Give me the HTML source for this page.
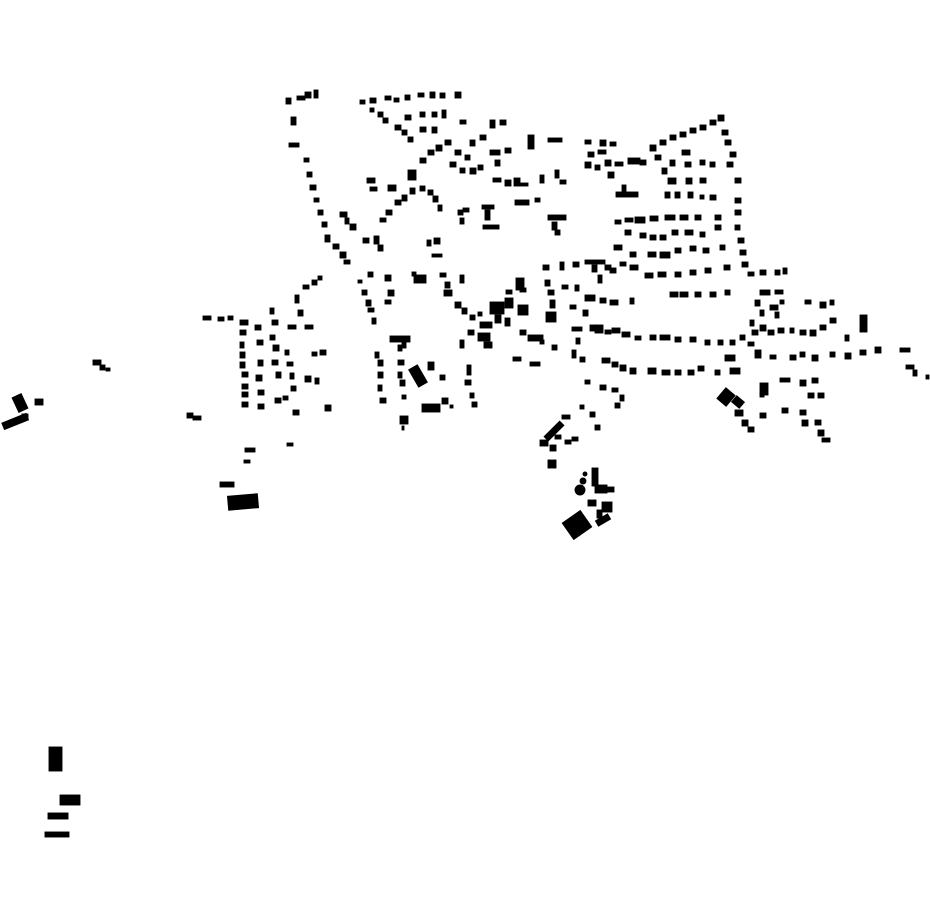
<!DOCTYPE html>
<html><head><meta charset="utf-8"><style>html,body{margin:0;padding:0;background:#fff}svg{display:block}</style></head>
<body>
<svg width="930" height="924" viewBox="0 0 930 924" xmlns="http://www.w3.org/2000/svg">
<g fill="#000" stroke="#000" stroke-width="0.9">
<!-- north-west strip -->
<rect x="286" y="98" width="5" height="6"/><rect x="297" y="96" width="8" height="4"/><rect x="305" y="92" width="6" height="6"/><rect x="314" y="90" width="4" height="8"/>
<rect x="291" y="117" width="5" height="8"/><rect x="289" y="143" width="10" height="4"/><rect x="304" y="158" width="5" height="4"/><rect x="307" y="172" width="5" height="5"/><rect x="310" y="185" width="6" height="5"/><rect x="314" y="198" width="5" height="4"/><rect x="318" y="210" width="5" height="5"/><rect x="322" y="222" width="5" height="5"/><rect x="325" y="235" width="5" height="7"/><rect x="333" y="244" width="6" height="5"/><rect x="340" y="252" width="6" height="6"/><rect x="344" y="260" width="6" height="4"/>
<rect x="340" y="212" width="7" height="5"/><rect x="345" y="218" width="4" height="6"/><rect x="350" y="224" width="6" height="6"/><rect x="363" y="238" width="6" height="5"/><rect x="374" y="236" width="5" height="8"/><rect x="378" y="245" width="5" height="6"/>
<rect x="380" y="218" width="6" height="4"/><rect x="386" y="210" width="6" height="5"/><rect x="395" y="200" width="6" height="5"/><rect x="402" y="195" width="5" height="6"/><rect x="410" y="188" width="5" height="6"/><rect x="408" y="170" width="8" height="10"/><rect x="420" y="158" width="6" height="5"/><rect x="428" y="150" width="6" height="5"/><rect x="436" y="145" width="6" height="6"/><rect x="445" y="140" width="6" height="5"/>
<rect x="360" y="100" width="5" height="4"/><rect x="370" y="98" width="6" height="5"/><rect x="385" y="96" width="6" height="4"/><rect x="394" y="98" width="5" height="4"/><rect x="405" y="95" width="5" height="5"/><rect x="418" y="93" width="6" height="4"/><rect x="430" y="92" width="5" height="6"/><rect x="440" y="93" width="5" height="5"/><rect x="455" y="92" width="6" height="6"/><rect x="370" y="108" width="4" height="4"/><rect x="378" y="112" width="5" height="5"/><rect x="383" y="118" width="5" height="5"/><rect x="395" y="125" width="6" height="5"/><rect x="402" y="130" width="5" height="5"/><rect x="408" y="137" width="5" height="5"/><rect x="405" y="115" width="6" height="5"/><rect x="420" y="112" width="5" height="5"/><rect x="432" y="112" width="5" height="5"/><rect x="442" y="110" width="4" height="8"/><rect x="420" y="127" width="6" height="5"/><rect x="432" y="127" width="5" height="6"/><rect x="460" y="120" width="6" height="4"/><rect x="367" y="178" width="8" height="5"/><rect x="370" y="187" width="7" height="4"/><rect x="388" y="185" width="8" height="6"/>
<rect x="420" y="186" width="5" height="5"/><rect x="428" y="190" width="5" height="5"/><rect x="433" y="196" width="5" height="6"/><rect x="438" y="205" width="4" height="6"/>
<rect x="458" y="210" width="5" height="5"/><rect x="463" y="208" width="6" height="4"/><rect x="460" y="218" width="4" height="6"/><rect x="482" y="205" width="12" height="4"/><rect x="485" y="210" width="5" height="10"/><rect x="483" y="225" width="16" height="4"/>
<rect x="427" y="240" width="4" height="6"/><rect x="434" y="238" width="6" height="6"/><rect x="432" y="254" width="10" height="3"/>
<rect x="470" y="140" width="5" height="6"/><rect x="480" y="135" width="6" height="5"/><rect x="490" y="120" width="5" height="8"/><rect x="500" y="120" width="6" height="5"/><rect x="455" y="150" width="6" height="5"/><rect x="465" y="155" width="5" height="5"/><rect x="450" y="162" width="6" height="5"/><rect x="460" y="168" width="5" height="5"/><rect x="470" y="168" width="6" height="6"/><rect x="478" y="165" width="5" height="5"/><rect x="490" y="150" width="10" height="5"/><rect x="495" y="160" width="5" height="6"/><rect x="505" y="148" width="6" height="5"/><rect x="528" y="135" width="6" height="14"/><rect x="548" y="138" width="14" height="4"/><rect x="493" y="178" width="8" height="4"/><rect x="505" y="180" width="6" height="6"/><rect x="514" y="178" width="6" height="8"/><rect x="520" y="183" width="8" height="3"/><rect x="540" y="175" width="4" height="8"/><rect x="555" y="170" width="4" height="8"/><rect x="560" y="180" width="6" height="4"/><rect x="515" y="200" width="14" height="5"/><rect x="535" y="198" width="5" height="4"/><rect x="548" y="215" width="18" height="5"/><rect x="552" y="222" width="5" height="8"/><rect x="555" y="230" width="5" height="5"/>
<!-- north-east -->
<rect x="585" y="140" width="6" height="4"/><rect x="600" y="140" width="6" height="6"/><rect x="610" y="142" width="6" height="4"/><rect x="588" y="152" width="6" height="5"/><rect x="598" y="150" width="8" height="4"/><rect x="585" y="162" width="6" height="6"/><rect x="595" y="165" width="5" height="5"/><rect x="605" y="160" width="6" height="6"/><rect x="615" y="162" width="8" height="4"/><rect x="628" y="158" width="12" height="6"/><rect x="640" y="160" width="6" height="5"/><rect x="655" y="155" width="6" height="5"/><rect x="650" y="145" width="6" height="6"/><rect x="660" y="140" width="6" height="5"/><rect x="670" y="135" width="6" height="5"/><rect x="680" y="132" width="6" height="5"/><rect x="690" y="128" width="6" height="5"/><rect x="700" y="125" width="6" height="5"/><rect x="710" y="120" width="6" height="5"/><rect x="718" y="115" width="6" height="6"/><rect x="722" y="130" width="6" height="5"/><rect x="725" y="140" width="6" height="5"/><rect x="730" y="152" width="6" height="5"/><rect x="727" y="162" width="6" height="5"/>
<rect x="608" y="172" width="6" height="6"/><rect x="616" y="192" width="22" height="5"/><rect x="622" y="185" width="4" height="8"/>
<rect x="662" y="168" width="5" height="6"/><rect x="670" y="160" width="5" height="6"/><rect x="682" y="150" width="8" height="5"/><rect x="685" y="162" width="6" height="5"/><rect x="700" y="160" width="5" height="5"/><rect x="710" y="162" width="5" height="5"/><rect x="668" y="178" width="8" height="6"/><rect x="686" y="178" width="6" height="6"/><rect x="700" y="178" width="6" height="5"/><rect x="665" y="192" width="5" height="6"/><rect x="675" y="192" width="5" height="6"/><rect x="688" y="192" width="5" height="6"/><rect x="700" y="195" width="4" height="4"/><rect x="710" y="195" width="6" height="5"/>
<rect x="735" y="178" width="6" height="5"/><rect x="735" y="198" width="6" height="5"/><rect x="735" y="210" width="6" height="5"/><rect x="735" y="225" width="5" height="5"/><rect x="738" y="238" width="6" height="5"/><rect x="740" y="250" width="6" height="5"/><rect x="742" y="262" width="6" height="5"/>
<rect x="615" y="220" width="6" height="4"/><rect x="625" y="218" width="8" height="4"/><rect x="635" y="217" width="10" height="6"/><rect x="650" y="216" width="8" height="5"/><rect x="665" y="215" width="10" height="5"/><rect x="680" y="215" width="8" height="5"/><rect x="695" y="215" width="6" height="5"/><rect x="715" y="215" width="6" height="5"/><rect x="625" y="230" width="6" height="5"/><rect x="640" y="233" width="6" height="5"/><rect x="650" y="235" width="6" height="5"/><rect x="660" y="235" width="6" height="5"/><rect x="672" y="230" width="6" height="5"/><rect x="685" y="230" width="8" height="5"/><rect x="700" y="232" width="5" height="5"/><rect x="715" y="225" width="6" height="5"/>
<rect x="614" y="245" width="8" height="5"/><rect x="630" y="252" width="6" height="5"/><rect x="648" y="252" width="8" height="5"/><rect x="660" y="252" width="10" height="6"/><rect x="675" y="248" width="6" height="5"/><rect x="690" y="246" width="6" height="5"/><rect x="703" y="248" width="6" height="5"/><rect x="720" y="245" width="5" height="5"/>
<rect x="605" y="265" width="6" height="5"/><rect x="620" y="262" width="6" height="4"/><rect x="630" y="265" width="8" height="5"/><rect x="645" y="273" width="8" height="5"/><rect x="658" y="272" width="8" height="5"/><rect x="675" y="272" width="6" height="5"/><rect x="690" y="270" width="6" height="5"/><rect x="705" y="268" width="6" height="5"/><rect x="724" y="265" width="6" height="5"/>
<rect x="670" y="292" width="8" height="5"/><rect x="680" y="292" width="8" height="5"/><rect x="695" y="292" width="6" height="5"/><rect x="710" y="292" width="6" height="5"/><rect x="725" y="290" width="5" height="5"/><rect x="748" y="272" width="6" height="4"/><rect x="760" y="270" width="6" height="5"/><rect x="775" y="270" width="5" height="5"/><rect x="783" y="268" width="4" height="6"/>
<!-- centre -->
<rect x="543" y="265" width="6" height="5"/><rect x="560" y="262" width="4" height="8"/><rect x="573" y="262" width="6" height="5"/><rect x="585" y="260" width="20" height="4"/><rect x="592" y="265" width="5" height="7"/><rect x="610" y="268" width="6" height="5"/><rect x="598" y="275" width="4" height="8"/>
<rect x="516" y="278" width="8" height="12"/><rect x="506" y="290" width="6" height="4"/><rect x="520" y="288" width="6" height="4"/><rect x="545" y="280" width="5" height="6"/><rect x="548" y="290" width="6" height="5"/><rect x="550" y="300" width="5" height="8"/><rect x="546" y="312" width="10" height="10"/><rect x="562" y="285" width="6" height="4"/><rect x="575" y="285" width="4" height="6"/><rect x="570" y="305" width="6" height="4"/><rect x="585" y="295" width="10" height="6"/><rect x="600" y="298" width="6" height="5"/><rect x="610" y="300" width="8" height="5"/><rect x="583" y="310" width="5" height="6"/><rect x="630" y="298" width="4" height="6"/>
<rect x="490" y="302" width="14" height="12"/><rect x="505" y="298" width="8" height="10"/><rect x="495" y="315" width="6" height="8"/><rect x="518" y="305" width="10" height="10"/><rect x="480" y="322" width="12" height="6"/><rect x="478" y="333" width="12" height="8"/><rect x="484" y="342" width="8" height="6"/><rect x="505" y="318" width="5" height="8"/><rect x="520" y="330" width="6" height="5"/><rect x="528" y="335" width="15" height="6"/><rect x="540" y="340" width="4" height="4"/><rect x="513" y="357" width="8" height="4"/><rect x="530" y="362" width="10" height="4"/><rect x="552" y="345" width="5" height="5"/>
<rect x="572" y="327" width="10" height="4"/><rect x="576" y="338" width="4" height="6"/><rect x="590" y="325" width="6" height="6"/><rect x="595" y="325" width="8" height="8"/><rect x="605" y="330" width="6" height="4"/><rect x="612" y="328" width="8" height="5"/><rect x="622" y="332" width="8" height="5"/><rect x="635" y="336" width="6" height="4"/><rect x="650" y="335" width="6" height="5"/><rect x="660" y="335" width="10" height="5"/><rect x="675" y="337" width="6" height="5"/><rect x="690" y="337" width="6" height="5"/><rect x="705" y="340" width="5" height="5"/><rect x="718" y="340" width="5" height="5"/><rect x="730" y="340" width="5" height="5"/><rect x="740" y="335" width="5" height="5"/><rect x="752" y="330" width="6" height="5"/><rect x="768" y="330" width="6" height="5"/><rect x="778" y="328" width="6" height="5"/><rect x="790" y="328" width="4" height="5"/><rect x="800" y="330" width="6" height="5"/>
<rect x="572" y="350" width="4" height="8"/><rect x="580" y="357" width="5" height="5"/><rect x="602" y="358" width="8" height="5"/><rect x="612" y="362" width="6" height="5"/><rect x="620" y="365" width="6" height="6"/><rect x="630" y="368" width="6" height="6"/><rect x="648" y="368" width="8" height="6"/><rect x="662" y="370" width="8" height="5"/><rect x="675" y="370" width="6" height="5"/><rect x="688" y="370" width="6" height="5"/><rect x="698" y="366" width="6" height="5"/><rect x="715" y="370" width="5" height="5"/><rect x="725" y="355" width="10" height="6"/><rect x="730" y="368" width="10" height="6"/><rect x="748" y="342" width="6" height="4"/><rect x="755" y="350" width="6" height="8"/><rect x="770" y="355" width="6" height="4"/><rect x="790" y="355" width="6" height="5"/><rect x="800" y="352" width="5" height="5"/><rect x="812" y="355" width="6" height="6"/><rect x="830" y="352" width="5" height="5"/><rect x="845" y="353" width="6" height="6"/><rect x="860" y="350" width="6" height="5"/><rect x="875" y="347" width="6" height="6"/><rect x="900" y="348" width="10" height="4"/><rect x="906" y="365" width="8" height="4"/><rect x="913" y="370" width="4" height="6"/><rect x="926" y="375" width="3" height="4"/><rect x="860" y="315" width="7" height="17"/><rect x="845" y="335" width="4" height="6"/><rect x="810" y="330" width="6" height="6"/><rect x="820" y="325" width="6" height="5"/><rect x="830" y="318" width="6" height="5"/><rect x="805" y="300" width="6" height="4"/><rect x="820" y="302" width="6" height="6"/><rect x="830" y="300" width="4" height="5"/><rect x="770" y="305" width="8" height="5"/><rect x="775" y="312" width="4" height="6"/><rect x="755" y="300" width="5" height="6"/><rect x="760" y="310" width="4" height="6"/><rect x="760" y="290" width="10" height="5"/><rect x="775" y="290" width="8" height="4"/><rect x="780" y="300" width="4" height="4"/><rect x="760" y="325" width="6" height="6"/><rect x="750" y="320" width="4" height="6"/>
<!-- east cluster -->
<rect x="720" y="390" width="12" height="14" transform="rotate(40 726 397)"/><rect x="733" y="398" width="10" height="8" transform="rotate(40 738 402)"/><rect x="735" y="410" width="8" height="6"/><rect x="742" y="420" width="6" height="6"/><rect x="748" y="427" width="6" height="5"/><rect x="760" y="413" width="6" height="5"/><rect x="760" y="383" width="8" height="12"/><rect x="780" y="378" width="10" height="4"/><rect x="800" y="380" width="6" height="6"/><rect x="812" y="378" width="6" height="5"/><rect x="808" y="393" width="6" height="5"/><rect x="818" y="393" width="6" height="5"/><rect x="782" y="408" width="6" height="5"/><rect x="800" y="410" width="6" height="5"/><rect x="802" y="420" width="6" height="6"/><rect x="815" y="420" width="6" height="5"/><rect x="818" y="430" width="6" height="6"/><rect x="822" y="438" width="8" height="4"/><rect x="760" y="393" width="4" height="4"/>
<!-- south-central -->
<rect x="585" y="380" width="5" height="4"/><rect x="600" y="385" width="6" height="5"/><rect x="612" y="388" width="6" height="4"/><rect x="620" y="395" width="4" height="6"/><rect x="615" y="403" width="5" height="5"/><rect x="580" y="405" width="4" height="4"/><rect x="590" y="412" width="5" height="5"/><rect x="595" y="425" width="5" height="5"/><rect x="562" y="415" width="8" height="4"/><rect x="543" y="428" width="22" height="6" transform="rotate(-45 554 431)"/><rect x="540" y="440" width="8" height="6"/><rect x="550" y="445" width="6" height="6"/><rect x="548" y="460" width="8" height="8"/><rect x="555" y="435" width="6" height="4"/><rect x="565" y="440" width="6" height="4"/><rect x="572" y="437" width="6" height="4"/>
<rect x="592" y="468" width="6" height="18"/><circle cx="580" cy="490" r="5"/><circle cx="583" cy="481" r="3"/><circle cx="585" cy="474" r="2"/><rect x="595" y="485" width="12" height="8"/><rect x="606" y="487" width="8" height="5"/><rect x="588" y="500" width="8" height="6"/><rect x="602" y="502" width="10" height="10"/><rect x="596" y="517" width="14" height="6" transform="rotate(-30 603 520)"/><rect x="566" y="515" width="22" height="20" transform="rotate(-35 577 525)"/><rect x="597" y="510" width="5" height="8"/>
<!-- west -->
<rect x="203" y="316" width="8" height="4"/><rect x="218" y="317" width="6" height="4"/><rect x="228" y="316" width="5" height="4"/><rect x="240" y="320" width="8" height="5"/><rect x="240" y="330" width="6" height="5"/><rect x="240" y="342" width="4" height="6"/><rect x="240" y="352" width="5" height="6"/><rect x="240" y="362" width="5" height="6"/><rect x="242" y="372" width="6" height="5"/><rect x="242" y="384" width="6" height="5"/><rect x="242" y="392" width="6" height="5"/><rect x="242" y="402" width="6" height="5"/><rect x="255" y="325" width="6" height="5"/><rect x="257" y="340" width="6" height="5"/><rect x="258" y="360" width="5" height="6"/><rect x="256" y="375" width="6" height="6"/><rect x="258" y="390" width="6" height="5"/><rect x="258" y="404" width="6" height="5"/><rect x="270" y="308" width="4" height="6"/><rect x="272" y="320" width="6" height="5"/><rect x="270" y="335" width="5" height="5"/><rect x="273" y="345" width="6" height="6"/><rect x="272" y="360" width="6" height="5"/><rect x="276" y="372" width="5" height="6"/><rect x="275" y="398" width="6" height="5"/><rect x="283" y="396" width="5" height="4"/><rect x="288" y="325" width="8" height="4"/><rect x="305" y="325" width="8" height="4"/><rect x="285" y="350" width="4" height="5"/><rect x="287" y="362" width="6" height="4"/><rect x="290" y="373" width="4" height="6"/><rect x="291" y="386" width="5" height="5"/><rect x="312" y="352" width="5" height="4"/><rect x="315" y="378" width="4" height="6"/><rect x="320" y="350" width="6" height="5"/><rect x="325" y="405" width="6" height="6"/><rect x="293" y="410" width="6" height="5"/><rect x="305" y="376" width="6" height="6"/><rect x="187" y="413" width="6" height="5"/><rect x="193" y="416" width="8" height="4"/><rect x="295" y="295" width="4" height="8"/><rect x="303" y="285" width="6" height="4"/><rect x="312" y="280" width="5" height="5"/><rect x="318" y="276" width="4" height="4"/><rect x="298" y="310" width="5" height="6"/>
<rect x="358" y="280" width="4" height="3"/><rect x="368" y="272" width="5" height="5"/><rect x="362" y="290" width="5" height="5"/><rect x="366" y="300" width="5" height="6"/><rect x="368" y="308" width="6" height="4"/><rect x="372" y="318" width="4" height="6"/><rect x="385" y="275" width="6" height="6"/><rect x="388" y="290" width="6" height="6"/><rect x="385" y="300" width="6" height="4"/><rect x="414" y="275" width="12" height="8"/><rect x="412" y="272" width="4" height="4"/><rect x="440" y="273" width="6" height="4"/><rect x="445" y="282" width="5" height="6"/><rect x="460" y="275" width="4" height="8"/><rect x="444" y="290" width="8" height="6"/><rect x="455" y="302" width="6" height="6"/><rect x="462" y="308" width="5" height="6"/><rect x="470" y="315" width="5" height="5"/><rect x="478" y="312" width="4" height="4"/><rect x="460" y="340" width="4" height="8"/><rect x="468" y="330" width="6" height="5"/>
<rect x="390" y="336" width="20" height="6"/><rect x="402" y="342" width="4" height="6"/><rect x="375" y="352" width="4" height="6"/><rect x="378" y="360" width="5" height="6"/><rect x="378" y="372" width="5" height="6"/><rect x="378" y="385" width="4" height="6"/><rect x="380" y="398" width="6" height="5"/><rect x="398" y="345" width="4" height="6"/><rect x="398" y="360" width="6" height="5"/><rect x="398" y="372" width="4" height="6"/><rect x="400" y="380" width="5" height="6"/><rect x="402" y="395" width="4" height="4"/><rect x="400" y="416" width="8" height="8"/><rect x="402" y="426" width="2" height="4"/><rect x="413" y="366" width="10" height="20" transform="rotate(-30 418 376)"/><rect x="428" y="362" width="6" height="8"/><rect x="440" y="375" width="5" height="5"/><rect x="467" y="365" width="4" height="10"/><rect x="465" y="380" width="6" height="5"/><rect x="470" y="393" width="4" height="5"/><rect x="472" y="402" width="5" height="5"/><rect x="422" y="404" width="18" height="8"/><rect x="442" y="398" width="6" height="6"/><rect x="450" y="405" width="3" height="3"/>
<!-- far west -->
<rect x="93" y="360" width="8" height="5"/><rect x="100" y="365" width="5" height="5"/><rect x="106" y="368" width="4" height="3"/>
<rect x="15" y="395" width="10" height="16" transform="rotate(-25 20 403)"/><rect x="2" y="418" width="26" height="7" transform="rotate(-22 15 421)"/><rect x="35" y="399" width="8" height="6"/><rect x="22" y="414" width="6" height="6"/>
<rect x="228" y="495" width="30" height="14" transform="rotate(-5 243 502)"/><rect x="220" y="482" width="14" height="5"/><rect x="245" y="448" width="10" height="4"/><rect x="244" y="460" width="6" height="3"/><rect x="287" y="443" width="6" height="3"/>
<!-- bottom-left -->
<rect x="49" y="747" width="13" height="24"/><rect x="60" y="795" width="20" height="10"/><rect x="48" y="813" width="20" height="6"/><rect x="45" y="832" width="24" height="5"/>
</g>
</svg>
</body></html>
